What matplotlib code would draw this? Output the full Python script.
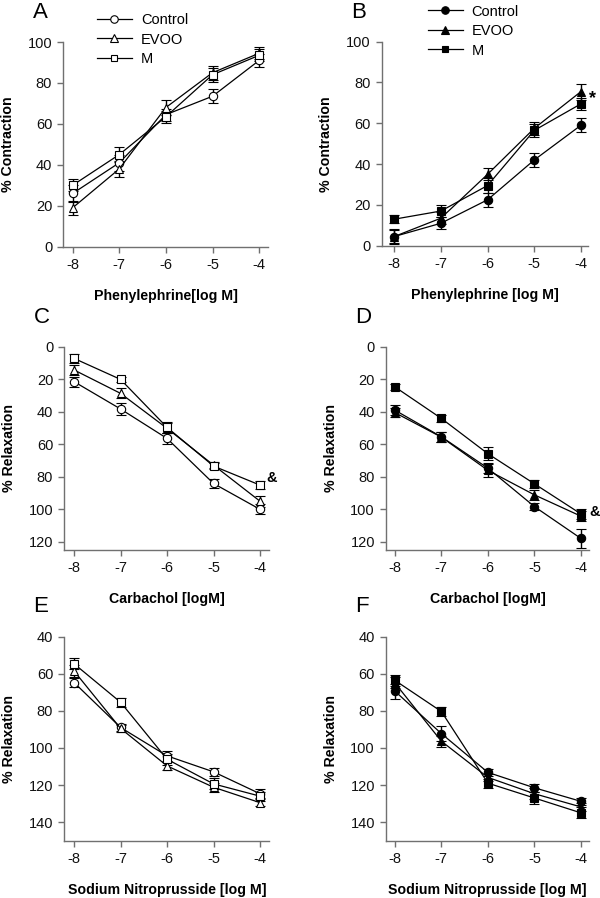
import matplotlib
matplotlib.use("Agg")
import matplotlib.pyplot as plt
import numpy as np

plt.rcParams['font.family'] = ['Liberation Sans', 'DejaVu Sans']

# ---------------- data ----------------
conc = [-8, -7, -6, -5, -4]
xtick_labels = ['-8', '-7', '-6', '-5', '-4']
series_names = ['Control', 'EVOO', 'M']

# Panel A (open markers) - phenylephrine, % contraction
A_control = [26, 41, 64.5, 73.5, 91]
A_control_err = [4, 4, 3, 3.5, 3]
A_evoo = [19, 38, 68, 85, 94.5]
A_evoo_err = [3.5, 4, 3.5, 3.5, 3]
A_m = [30, 45, 63.5, 84, 93.5]
A_m_err = [3, 3.5, 3, 3.5, 3]

# Panel B (filled markers) - phenylephrine, % contraction
B_control = [4.5, 11, 22.5, 42, 59]
B_control_err = [3.5, 3, 3.5, 3.5, 3.5]
B_evoo = [4.5, 13.5, 35, 57.5, 75.5]
B_evoo_err = [3, 3, 3, 3, 4]
B_m = [13, 17, 29.5, 56.5, 69.5]
B_m_err = [2, 3, 3.5, 3, 3]

# Panel C (open markers) - carbachol, % relaxation
C_control = [21.5, 38.3, 56.4, 84.1, 100]
C_control_err = [3, 3.5, 3.5, 3, 3]
C_evoo = [14.3, 28.7, 50.2, 72.8, 95]
C_evoo_err = [3, 3, 3, 2, 3.5]
C_m = [7.2, 20.1, 49.6, 73.4, 85.1]
C_m_err = [3, 1.5, 3.5, 2, 2.5]

# Panel D (filled markers) - carbachol, % relaxation
D_control = [39, 55.4, 74.7, 98.3, 117.9]
D_control_err = [3, 3, 3, 2, 6]
D_evoo = [40.5, 55.6, 76, 91.1, 104.2]
D_evoo_err = [3, 3, 4, 3, 3]
D_m = [24.7, 44.1, 65.8, 84.3, 102.8]
D_m_err = [2, 2, 4, 2.5, 3]

# Panel E (open markers) - sodium nitroprusside, % relaxation
E_control = [64.8, 89, 104.3, 112.9, 124.7]
E_control_err = [2.5, 2, 2.5, 2, 2.5]
E_evoo = [58.6, 89.5, 109.7, 121.2, 129.5]
E_evoo_err = [3, 2, 2, 2.5, 2]
E_m = [54.7, 75.4, 106.1, 119.4, 126]
E_m_err = [3, 2.5, 3, 3, 2.5]

# Panel F (filled markers) - sodium nitroprusside, % relaxation
F_control = [69.4, 92.3, 113.2, 121.5, 128.8]
F_control_err = [4, 4, 2, 2, 2]
F_evoo = [65, 96.4, 115.9, 124.7, 131.8]
F_evoo_err = [3, 3, 2, 3, 2]
F_m = [63.6, 80.4, 119, 127, 135]
F_m_err = [3, 2.5, 2.5, 3, 3]

A_yticks = [0, 20, 40, 60, 80, 100]
C_yticks = [0, 20, 40, 60, 80, 100, 120]
E_yticks = [40, 60, 80, 100, 120, 140]

# ---------------- figure ----------------
W, H = 600, 898
fig = plt.figure(figsize=(W / 100, H / 100), dpi=100)

SPINE = '#707070'
markers = ['o', '^', 's']


def px_axes(left, top, right, bottom):
    return fig.add_axes([left / W, 1 - bottom / H, (right - left) / W, (bottom - top) / H])


def panel(ax, ys, errs, filled, xlim, ylim, yticks, xlabel, ylabel, letter):
    handles = []
    for y, e, mk, name in zip(ys, errs, markers, series_names):
        ms = 6 if mk != 's' else 5.5
        cont = ax.errorbar(conc, y, yerr=e, color='black', lw=0.9, elinewidth=1.0,
                           capsize=3.4, capthick=1.0, marker=mk, markersize=ms,
                           markerfacecolor='black' if filled else 'white',
                           markeredgecolor='black', markeredgewidth=0.8,
                           label=name, clip_on=False, zorder=3)
        handles.append(cont.lines[0])
    ax.set_xlim(*xlim)
    ax.set_ylim(*ylim)
    ax.set_xticks(conc)
    ax.set_xticklabels(xtick_labels)
    ax.set_yticks(yticks)
    for s in ['top', 'right']:
        ax.spines[s].set_visible(False)
    for s in ['left', 'bottom']:
        ax.spines[s].set_color(SPINE)
        ax.spines[s].set_linewidth(1.0)
    ax.tick_params(axis='both', direction='out', length=4, width=1.0,
                   color=SPINE, labelsize=10.5, pad=4, labelcolor='#111111')
    ax.set_xlabel(xlabel, fontsize=10.2, fontweight='bold')
    ax.xaxis.set_label_coords(0.5, -0.24)
    ax.xaxis.label.set_va('center')
    ax.set_ylabel(ylabel, fontsize=10.2, fontweight='bold')
    ax.yaxis.set_label_coords(-0.272, 0.5)
    ax.yaxis.label.set_va('center')
    ax.text(-0.15, 1.145, letter, transform=ax.transAxes, fontsize=16,
            ha='left', va='center')
    return handles


axA = px_axes(63.3, 42, 268, 246.7)
hA = panel(axA, [A_control, A_evoo, A_m], [A_control_err, A_evoo_err, A_m_err], False,
           (-8.2, -3.81), (0, 100), A_yticks, 'Phenylephrine[log M]', '% Contraction', 'A')

axB = px_axes(381.7, 41.7, 588.3, 245.7)
hB = panel(axB, [B_control, B_evoo, B_m], [B_control_err, B_evoo_err, B_m_err], True,
           (-8.27, -3.84), (0, 100), A_yticks, 'Phenylephrine [log M]', '% Contraction', 'B')

axC = px_axes(64.3, 346.7, 269.3, 550)
panel(axC, [C_control, C_evoo, C_m], [C_control_err, C_evoo_err, C_m_err], False,
      (-8.21, -3.8), (125, 0), C_yticks, 'Carbachol [logM]', '% Relaxation', 'C')

axD = px_axes(386, 346.7, 589.3, 550)
panel(axD, [D_control, D_evoo, D_m], [D_control_err, D_evoo_err, D_m_err], True,
      (-8.19, -3.82), (125, 0), C_yticks, 'Carbachol [logM]', '% Relaxation', 'D')

axE = px_axes(64.3, 636.5, 269.3, 840.7)
panel(axE, [E_control, E_evoo, E_m], [E_control_err, E_evoo_err, E_m_err], False,
      (-8.21, -3.8), (150, 40), E_yticks, 'Sodium Nitroprusside [log M]', '% Relaxation', 'E')

axF = px_axes(386, 636.5, 589.3, 840.7)
panel(axF, [F_control, F_evoo, F_m], [F_control_err, F_evoo_err, F_m_err], True,
      (-8.19, -3.82), (150, 40), E_yticks, 'Sodium Nitroprusside [log M]', '% Relaxation', 'F')

# legends
for ax, hs, (lx, ly) in [(axA, hA, (97, 13)), (axB, hB, (427.7, 4.5))]:
    ax.legend(hs, series_names, loc='upper left', bbox_to_anchor=(lx / W, 1 - ly / H),
              bbox_transform=fig.transFigure, frameon=False, fontsize=10.5,
              handlelength=2.4, handletextpad=0.6, labelspacing=0.38,
              borderpad=0, borderaxespad=0, markerscale=0.9)

# significance marks
axB.text(-3.74, 72, '*', fontsize=13, fontweight='bold', ha='center', va='center', clip_on=False)
axC.text(-3.75, 80.6, '&', fontsize=10.5, fontweight='bold', ha='center', va='center', clip_on=False)
axD.text(-3.71, 101.5, '&', fontsize=10.5, fontweight='bold', ha='center', va='center', clip_on=False)

fig.savefig('out.png', dpi=100)
